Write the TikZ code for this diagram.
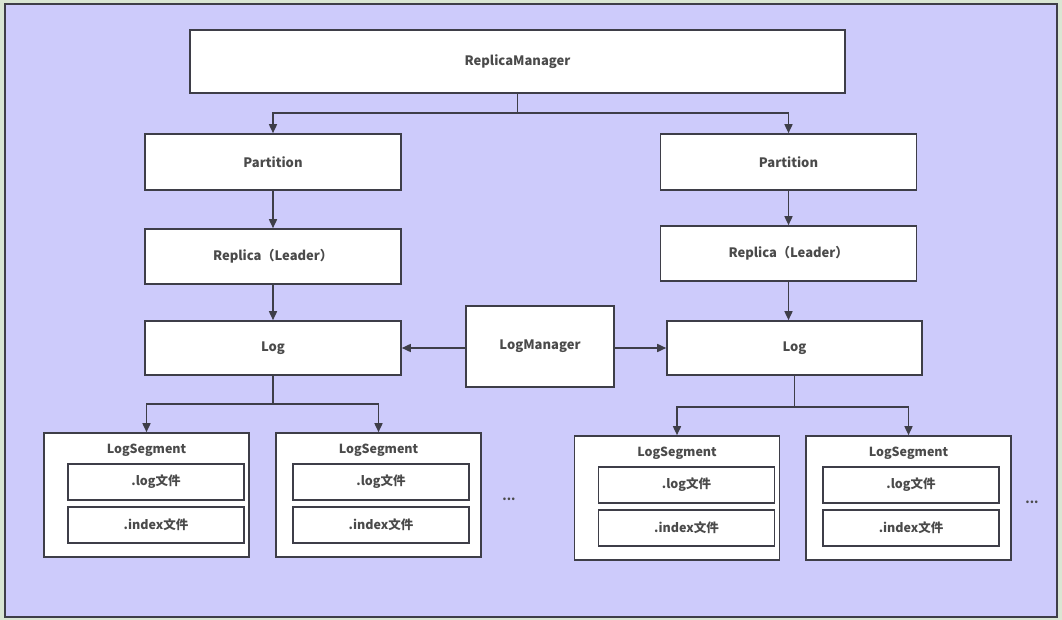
\documentclass[tikz,border=0pt]{standalone}
\usepackage{fontspec}
\newfontfamily\cjk{Noto Sans CJK SC}
\usetikzlibrary{arrows.meta}
\definecolor{lavender}{HTML}{CDCBFB}
\definecolor{outside}{HTML}{D9E6D3}
\definecolor{linegray}{HTML}{3E3E48}
\definecolor{textgray}{HTML}{4A4A4A}
\begin{document}
\begin{tikzpicture}[
            x=1pt, y=-1pt,
            box/.style={draw=linegray, fill=white, line width=1.6pt, inner sep=0pt,
                minimum width=256pt, minimum height=56pt, text=textgray,
                font=\cjk\bfseries\fontsize{13}{15}\selectfont},
            segbox/.style={box, minimum width=205pt, minimum height=124pt},
            filebox/.style={box, minimum width=176pt, minimum height=36pt,
                font=\cjk\bfseries\fontsize{12.5}{15}\selectfont},
            title/.style={text=textgray, inner sep=0pt, font=\cjk\bfseries\fontsize{12.5}{15}\selectfont},
            arr/.style={draw=linegray, line width=1.6pt, -{Triangle[length=9pt, width=8pt]}}
            ]
            % background and frame
            \fill[outside] (0,0) rectangle (1062,620);
            \fill[lavender] (5,4) rectangle (1057,617);
            \draw[linegray, line width=1.6pt] (5,4) rectangle (1057,617);

            \node[box, minimum width=655pt, minimum height=63pt] (manager) at (517.5,61.5) {ReplicaManager};

            \node[box] (partL) at (273,162) {Partition};
            \node[box] (partR) at (788.5,162) {Partition};

            \node[box, minimum height=55pt] (replL) at (273,256.5) {Replica（Leader）};
            \node[box, minimum height=55pt] (replR) at (788.5,253.5) {Replica（Leader）};

            \node[box, minimum height=54pt] (logL) at (273,348) {Log};
            \node[box, minimum width=255pt, minimum height=54pt] (logR) at (794.5,348) {Log};

            \node[box, minimum width=148pt, minimum height=81pt] (logmgr) at (540,346.5) {LogManager};

            % log segments
            \foreach \n/\sx/\sy/\ix in {1/146.5/433/156, 2/378.5/433/381, 3/677/436/686.5, 4/908.5/436/911}{
                \node[segbox] (seg\n) at (\sx,\sy+62) {};
                \node[title] (segtitle\n) at (\sx,\sy+17) {LogSegment};
                \node[filebox] (logfile\n) at (\ix,\sy+49) {.log文件};
                \node[filebox] (indexfile\n) at (\ix,\sy+92) {.index文件};
            }

            \node[title] (moreL) at (509,499) {...};
            \node[title] (moreR) at (1032,502) {...};

            % connectors
            \foreach \p in {partL,partR}{
                \draw[arr] (manager.south) -- ++(0,19) -| (\p.north);
            }
            \draw[arr] (partL) -- (replL);
            \draw[arr] (partR) -- (replR);
            \draw[arr] (replL) -- (logL);
            \draw[arr] (replR.south) -- (replR.south |- logR.north);
            \draw[arr] (logmgr.west |- logL.east) -- (logL.east);
            \draw[arr] (logmgr.east |- logR.west) -- (logR.west);

            \foreach \x in {1,2}{
                \draw[arr] (logL.south) -- ++(0,28) -| (seg\x.north);
            }
            \foreach \x in {3,4}{
                \draw[arr] (logR.south) -- ++(0,31) -| (seg\x.north);
            }
        \end{tikzpicture}
\end{document}
